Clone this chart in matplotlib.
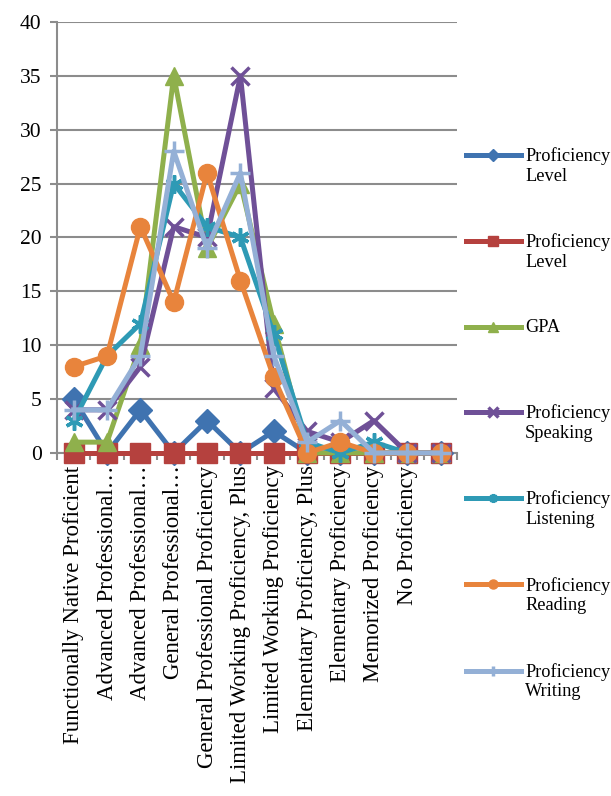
import numpy as np
import matplotlib
matplotlib.use("Agg")
import matplotlib.pyplot as plt
from matplotlib.lines import Line2D
from matplotlib.legend_handler import HandlerLine2D

plt.rcParams['font.family'] = ['Liberation Serif', 'DejaVu Serif']

# categories (last slot has no label)
categories = ["Functionally Native Proficient", "Advanced Professional…",
              "Advanced Professional…", "General Professional…",
              "General Professional Proficiency", "Limited Working Proficiency, Plus",
              "Limited Working Proficiency", "Elementary Proficiency, Plus",
              "Elementary Proficiency", "Memorized Proficiency", "No Proficiency", ""]

level_a = [5, 0, 4, 0, 3, 0, 2, 0, 0, 0, 0, 0]
level_b = [0, 0, 0, 0, 0, 0, 0, 0, 0, 0, 0, 0]
gpa = [1, 1, 10, 35, 19, 25, 12, 0, 0, 0, 0, 0]
speaking = [4, 4, 8, 21, 20, 35, 6, 2, 1, 3, 0, 0]
listening = [3, 9, 12, 25, 21, 20, 11, 1, 0, 1, 0, 0]
reading = [8, 9, 21, 14, 26, 16, 7, 0, 1, 0, 0, 0]
writing = [4, 4, 9, 28, 19, 26, 9, 1, 3, 0, 0, 0]

series = [
    ("Proficiency\nLevel", level_a, "#3F73B0", "D", 12),
    ("Proficiency\nLevel", level_b, "#B5413E", "s", 14),
    ("GPA\n ", gpa, "#8FB04C", "^", 13),
    ("Proficiency\nSpeaking", speaking, "#6F5097", "x", 13),
    ("Proficiency\nListening", listening, "#2E9AB5", (6, 2, 0), 13),
    ("Proficiency\nReading", reading, "#E8843C", "o", 13),
    ("Proficiency\nWriting", writing, "#94B0D6", "+", 15),
]


# legend handle sits on the first text line, like Excel
class FirstLineHandler(HandlerLine2D):
    def create_artists(self, legend, orig_handle, xdescent, ydescent,
                       width, height, fontsize, trans):
        arts = super().create_artists(legend, orig_handle, xdescent, ydescent,
                                      width, height, fontsize, trans)
        for a in arts:
            a.set_ydata(np.asarray(a.get_ydata()) + 0.6 * fontsize)
        return arts


fig = plt.figure(figsize=(6.11, 7.96), dpi=100)
ax = fig.add_axes([0.0933, 0.431, 0.655, 0.5415])

x = np.arange(len(categories))
for name, vals, col, mk, ms in series:
    ax.plot(x, vals, color=col, lw=3.6, marker=mk, markersize=ms,
            markeredgewidth=2.5 if mk in ("x", "+", (6, 2, 0)) else 1,
            markerfacecolor=col, markeredgecolor=col, label=name, clip_on=False, zorder=3)

ax.set_xlim(-0.5, 11.5)
ax.set_ylim(0, 40)
ax.set_yticks(np.arange(0, 41, 5))
ax.yaxis.grid(True, color="#8C8C8C", lw=1.5)
ax.set_axisbelow(True)
ax.set_xticks(x)
ax.set_xticklabels(categories, rotation=90, fontsize=16.5)
ax.set_xticks(np.arange(-0.5, 12, 1), minor=True)
ax.tick_params(axis="x", which="major", length=0, pad=9)
ax.tick_params(axis="x", which="minor", length=5, width=1.5, color="#8C8C8C")
ax.tick_params(axis="y", length=5, width=1.5, color="#8C8C8C", labelsize=15.5, pad=6)
for s in ("top", "right"):
    ax.spines[s].set_visible(False)
for s in ("left", "bottom"):
    ax.spines[s].set_color("#8C8C8C")
    ax.spines[s].set_linewidth(1.5)

fig.legend(loc="upper left", bbox_to_anchor=(0.762, 0.815), frameon=False,
           fontsize=13.2, labelspacing=2.65, handlelength=3.0, handletextpad=0.25,
           borderpad=0, borderaxespad=0, markerscale=0.5,
           handler_map={Line2D: FirstLineHandler()})

fig.savefig("out.png", dpi=100)
